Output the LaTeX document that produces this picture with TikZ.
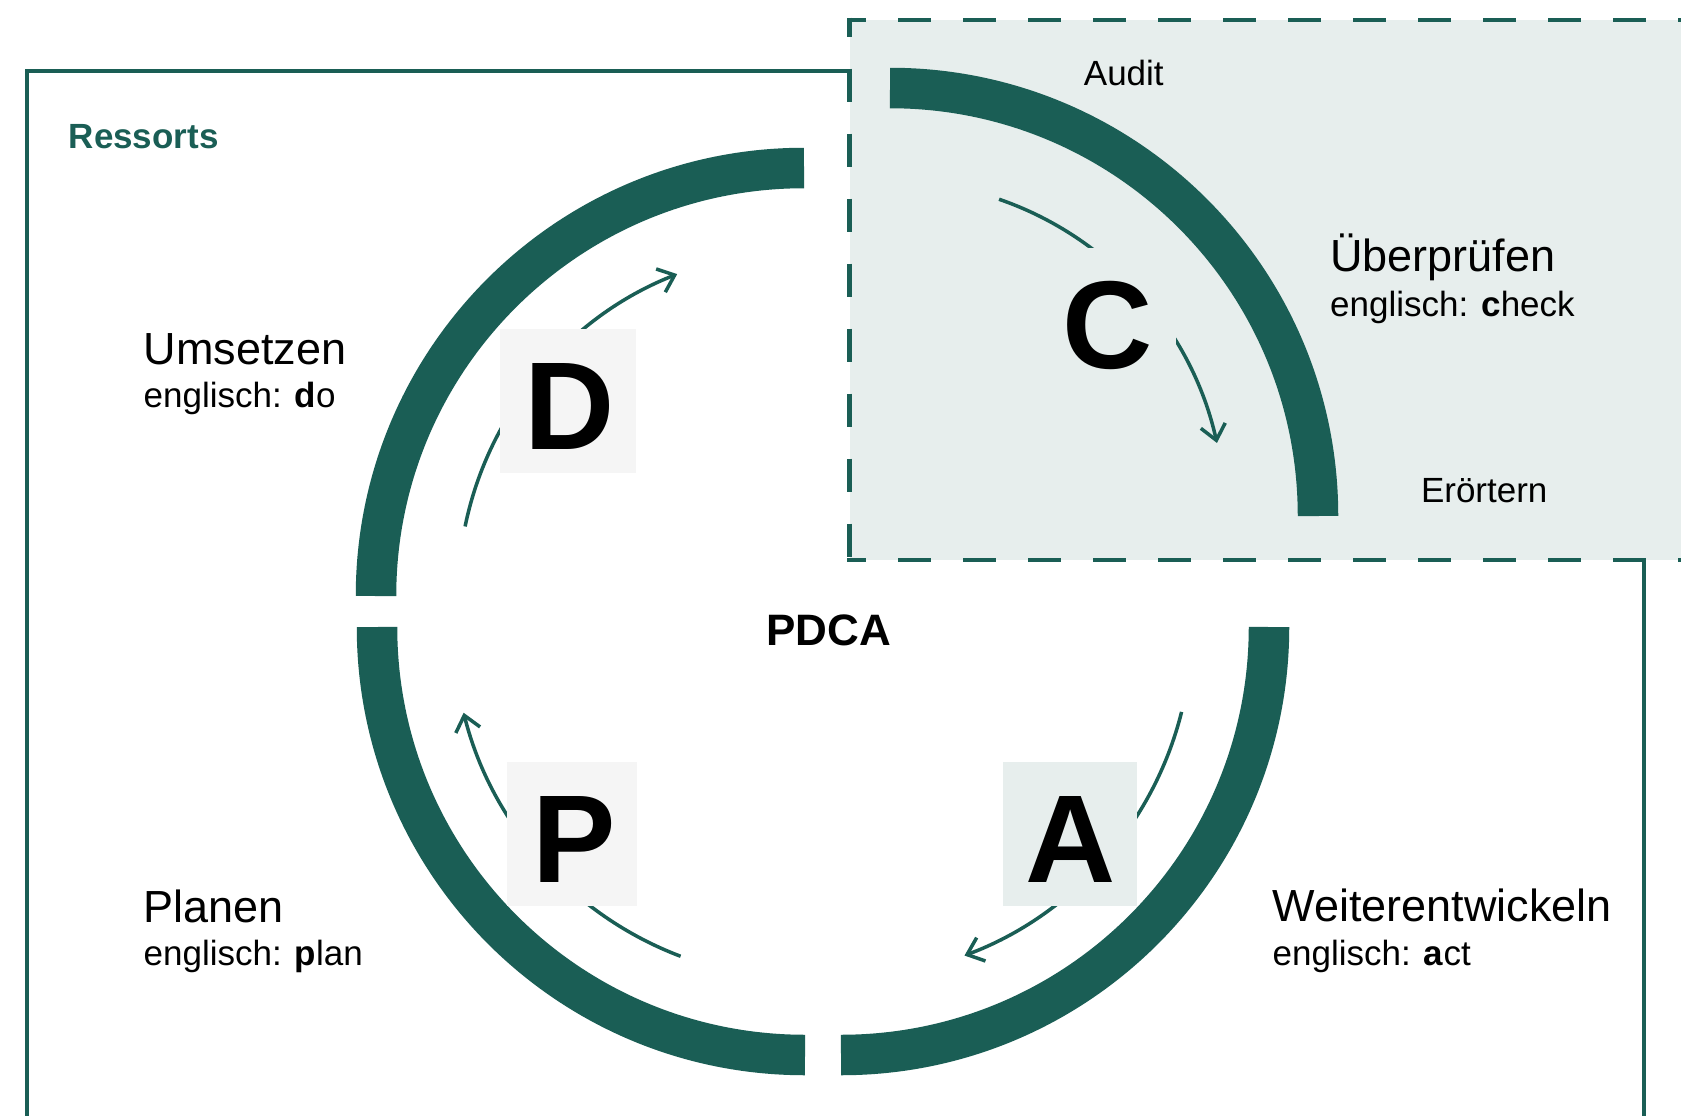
\documentclass[tikz,border=0pt]{standalone}
\usepackage{fontspec}
\setmainfont{Liberation Sans}
\usetikzlibrary{arrows.meta}
\definecolor{pdgreen}{HTML}{1A5E55}
\definecolor{pdlight}{HTML}{E7EEED}
\definecolor{pdgray}{HTML}{F5F5F5}
\begin{document}
\begin{tikzpicture}[x=1pt,y=-1pt,
  ring/.style={line width=40.5pt, draw=pdgreen},
  cyc/.style={line width=3.5pt, draw=pdgreen, -{Straight Barb[length=15pt,width=25pt]}},
  framelines/.style={line width=4pt, draw=pdgreen},
  dashframe/.style={line width=4.5pt, draw=pdgreen, dash pattern=on 33pt off 32pt, dash phase=14pt},
  letterbox/.style={inner sep=0pt, minimum width=#1, minimum height=143.5pt},
  bigletter/.style={inner sep=0pt, anchor=base, font=\fontsize{125}{125}\selectfont\bfseries},
  headtext/.style={inner sep=0pt, anchor=base west, font=\fontsize{45}{50}\selectfont},
  smalltext/.style={inner sep=0pt, anchor=base west, font=\fontsize{35}{40}\selectfont},
]
\clip (0,0) rectangle (1681,1116);
\fill[white] (0,0) rectangle (1681,1116);

% check region
\fill[pdlight] (849.5,19.8) rectangle (1700,560);
\draw[dashframe] (847.25,19.8) -- (1700,19.8);
\draw[dashframe] (849.5,17.55) -- (849.5,562);
\draw[dashframe] (847.25,560) -- (1700,560);

% Ressorts frame
\draw[framelines] (847,71.5) -- (27,71.5) -- (27,1200) -- (1644,1200) -- (1644,562);

% centres of the quarter arcs
\coordinate (cD) at (804,596);
\coordinate (cP) at (805,627);
\coordinate (cA) at (841,627);
\coordinate (cC) at (890,516);

% thick arcs
\draw[ring] (cD) ++(180:428pt) arc[start angle=180, end angle=90, radius=428pt];
\draw[ring] (cP) ++(180:428pt) arc[start angle=180, end angle=270, radius=428pt];
\draw[ring] (cA) ++(270:428pt) arc[start angle=270, end angle=360, radius=428pt];
\draw[ring] (cC) ++(0:428pt) arc[start angle=0, end angle=90, radius=428pt];

% cycle arrows
\draw[cyc] (cD) ++(168.4:346pt) arc[start angle=168.4, end angle=111.5, radius=346pt];
\draw[cyc] (cC) ++(71:335pt) arc[start angle=71, end angle=12.6, radius=335pt];
\draw[cyc] (cA) ++(-14:351pt) arc[start angle=-14, end angle=-69.4, radius=351pt];
\draw[cyc] (cP) ++(-110.7:352pt) arc[start angle=-110.7, end angle=-165.9, radius=352pt];

% letter boxes
\node[letterbox=136pt, fill=pdgray] (boxD) at (567.5,400.8) {};
\node[letterbox=136pt, fill=pdlight] (boxC) at (1108,320) {};
\node[letterbox=130pt, fill=pdgray] (boxP) at (571.9,833.9) {};
\node[letterbox=134pt, fill=pdlight] (boxA) at (1069.7,833.9) {};

\node[bigletter] (letD) at (569.8,449.6) {D};
\node[bigletter] (letC) at (1107.8,368.5) {C};
\node[bigletter] (letP) at (574,882) {P};
\node[bigletter] (letA) at (1070.5,882) {A};

% texts
\node[inner sep=0pt, anchor=base west, text=pdgreen, font=\fontsize{35}{40}\selectfont\bfseries] (ressorts) at (68.6,148) {Ressorts};
\node[inner sep=0pt, anchor=base, font=\fontsize{44}{48}\selectfont\bfseries] (pdca) at (828.7,645) {PDCA};

\node[smalltext] (audit) at (1083.7,85) {Audit};
\node[smalltext] (eroertern) at (1420.8,502) {Erörtern};

\node[headtext] (umsetzen) at (143.5,364) {Umsetzen};
\node[smalltext] (umsetzenE) at (143.5,407) {englisch: \textbf{d}o};

\node[headtext] (pruefen) at (1330,271) {Überprüfen};
\node[smalltext] (pruefenE) at (1330,316) {englisch: \textbf{c}heck};

\node[headtext] (planen) at (143.5,922) {Planen};
\node[smalltext] (planenE) at (143.5,965) {englisch: \textbf{p}lan};

\node[headtext] (weiter) at (1272.5,921.7) {Weiterentwickeln};
\node[smalltext] (weiterE) at (1272.5,965.3) {englisch: \textbf{a}ct};
\end{tikzpicture}
\end{document}
